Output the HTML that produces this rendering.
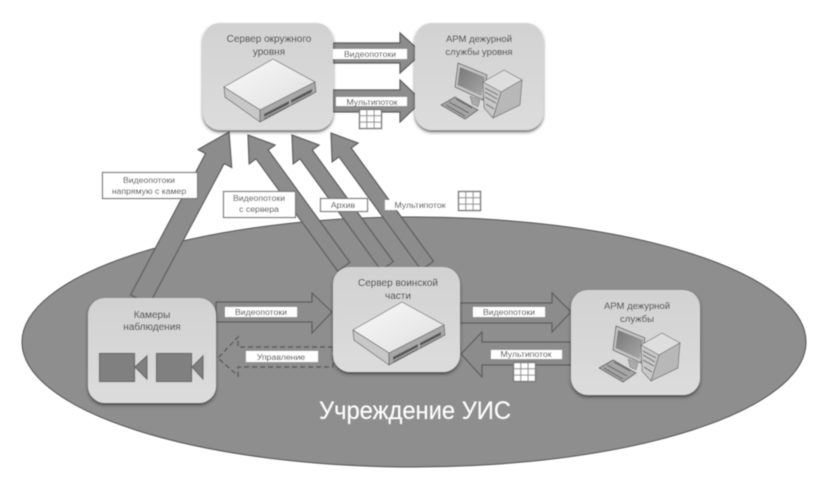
<!DOCTYPE html>
<html><head><meta charset="utf-8"><style>
html,body{margin:0;padding:0;background:#fff}
svg{display:block}
text{font-family:"Liberation Sans",sans-serif;font-size:8.7px;fill:#333;text-anchor:middle}
text.n{font-size:10px}
</style></head><body>
<svg width="821" height="477" viewBox="0 0 821 477" xmlns="http://www.w3.org/2000/svg">
<defs>
<filter id="b" x="-5%" y="-5%" width="110%" height="110%"><feGaussianBlur stdDeviation="0.5"/></filter>
<filter id="s" x="-10%" y="-10%" width="120%" height="120%"><feDropShadow dx="0" dy="2" stdDeviation="1.5" flood-color="#333" flood-opacity="0.8"/></filter>
<linearGradient id="g" x1="0" y1="0" x2="0" y2="1"><stop offset="0" stop-color="#d2d2d2"/><stop offset="1" stop-color="#dcdcdc"/></linearGradient>
<linearGradient id="t" x1="0" y1="0" x2="1" y2="1"><stop offset="0" stop-color="#fafafa"/><stop offset="1" stop-color="#dedede"/></linearGradient>
<linearGradient id="m" x1="0" y1="0" x2="1" y2="1"><stop offset="0" stop-color="#777"/><stop offset="1" stop-color="#a8a8a8"/></linearGradient>
<g id="srv">
<polygon points="224,87 273,59 315,82 260,110" fill="url(#t)" stroke="#555" stroke-width="0.7"/>
<polygon points="224,87 260,110 260,122 225,97" fill="#c8c8c8" stroke="#555" stroke-width="0.7"/>
<polygon points="260,110 315,82 316,92 260,122" fill="#a8a8a8" stroke="#555" stroke-width="0.7"/>
<path d="M264,114 L289,101 L289,104 L264,117 Z M291,100 L312,89 L312,92 L291,103 Z" fill="#555"/>
<path d="M264,119 L289,106 M291,105 L312,94" stroke="#666" stroke-width="1" fill="none"/>
</g>
<g id="pc">
<polygon points="441,105 455,97 478,110 465,119" fill="#a6a6a6" stroke="#555" stroke-width="0.8"/>
<path d="M456,99 L472,108 M446,105 L465,116 M449,102 L469,113" stroke="#555" stroke-width="0.9" fill="none"/>
<polygon points="470,96 480,100 478,107 472,104" fill="#aaa" stroke="#666" stroke-width="0.5"/>
<polygon points="458,63 487,75 483,100 455,87" fill="#c4c4c4" stroke="#555" stroke-width="0.8"/>
<polygon points="460,67 485,77 481.500,96 457.500,85" fill="url(#m)"/>
<polygon points="483,82 504,70 522,80 501,92" fill="#dedede" stroke="#666" stroke-width="0.7"/>
<polygon points="501,92 522,80 520,105 493,118" fill="#b8b8b8" stroke="#666" stroke-width="0.7"/>
<polygon points="483,82 501,92 493,118 484,108" fill="#c8c8c8" stroke="#666" stroke-width="0.7"/>
<path d="M485,88 L498,95 M485,92 L497,99 M485,97 L496,103 M486,104 L494,109" stroke="#555" stroke-width="0.8"/>
</g>
<g id="grid">
<rect x="0" y="0" width="22" height="19" fill="#fff" stroke="#777" stroke-width="1.4"/>
<path d="M7.300,0V19M14.600,0V19M0,6.300H22M0,12.600H22" stroke="#888" stroke-width="1" fill="none"/>
</g>
</defs>
<rect width="821" height="477" fill="#fff"/>
<g filter="url(#b)">
<ellipse cx="414" cy="342" rx="392" ry="125" fill="#8e8e8e" stroke="#4a4a4a" stroke-width="1"/>

<g fill="#8c8c8c" stroke="#5a5a5a" stroke-width="1.2">
<polygon transform="translate(229,132) rotate(-62)" points="0,0 -30,-19 -30,-10.500 -190,-10.500 -190,10.500 -30,10.500 -30,19"/>
<polygon transform="translate(248,135) rotate(-126)" points="0,0 -24,-16 -24,-7.500 -163,-7.500 -163,7.500 -24,7.500 -24,16"/>
<polygon transform="translate(292,135) rotate(-126)" points="0,0 -24,-16 -24,-7.500 -162,-7.500 -162,7.500 -24,7.500 -24,16"/>
<polygon transform="translate(331,133) rotate(-126)" points="0,0 -24,-16 -24,-7.500 -164,-7.500 -164,7.500 -24,7.500 -24,16"/>
<polygon points="333,43 400,43 400,33 422,53 400,73 400,63 333,63"/>
<polygon points="333,90 400,90 400,80 422,101 400,122 400,112 333,112"/>
<polygon points="216,302 312,302 312,293 332,312 312,333 312,322 216,322"/>
<polygon points="460,303 552,303 552,293 571,312 552,332 552,323 460,323"/>
<polygon points="571,342 482,342 482,332 461,354 482,377 482,365 571,365"/>
</g>
<polygon points="333,347 238,347 238,337 218,358 238,376 238,367 333,367" fill="#8e8e8e" stroke="#5a5a5a" stroke-width="1.4" stroke-dasharray="5 3"/>

<g fill="url(#g)" filter="url(#s)">
<rect x="203" y="23" width="130" height="107" rx="17"/>
<rect x="415" y="23" width="128" height="107" rx="17"/>
<rect x="88" y="298" width="128" height="105" rx="17"/>
<rect x="333" y="267" width="127" height="105" rx="17"/>
<rect x="571" y="290" width="129" height="105" rx="17"/>
</g>

<use href="#srv"/>
<use href="#srv" transform="translate(129,243)"/>
<use href="#pc"/>
<use href="#pc" transform="translate(158,263)"/>

<g fill="#808080" stroke="#666" stroke-width="1.2">
<rect x="99.500" y="353.500" width="35" height="28"/>
<polygon points="135,367 147,356 147,379"/>
<rect x="156.500" y="353.500" width="35" height="28"/>
<polygon points="192,367 203,356 203,379"/>
</g>

<g fill="#fff" stroke="none">
<rect x="333" y="49" width="74" height="10"/>
<rect x="336" y="97" width="71" height="9"/>
<rect x="385" y="200" width="73" height="10"/>
<rect x="225" y="307" width="72" height="10"/>
<rect x="246" y="351" width="72" height="11"/>
<rect x="473" y="307" width="72" height="10"/>
<rect x="491" y="350" width="71" height="9"/>
</g>
<g fill="#fff" stroke="#777" stroke-width="1.2">
<rect x="102.500" y="172.500" width="95" height="26"/>
<rect x="223.500" y="191.500" width="72" height="26"/>
<rect x="320.500" y="198.500" width="47" height="13"/>
</g>
<use href="#grid" transform="translate(359.500,109.500)"/>
<use href="#grid" transform="translate(458.500,191.500)"/>
<use href="#grid" transform="translate(513.500,362.500)"/>

<text class="n" x="269" y="42">Сервер окружного</text>
<text class="n" x="269" y="55">уровня</text>
<text class="n" x="479" y="42" style="font-size:9.500px">АРМ дежурной</text>
<text class="n" x="479" y="55" style="font-size:9.500px">службы уровня</text>
<text x="370" y="57">Видеопотоки</text>
<text x="372" y="105">Мультипоток</text>
<text x="149" y="183">Видеопотоки</text>
<text x="149" y="194">напрямую с камер</text>
<text x="259" y="201">Видеопотоки</text>
<text x="259" y="212">с сервера</text>
<text x="343" y="208">Архив</text>
<text x="420" y="208">Мультипоток</text>
<text class="n" x="152" y="318">Камеры</text>
<text class="n" x="152" y="330">наблюдения</text>
<text x="261" y="315">Видеопотоки</text>
<text x="281" y="360">Управление</text>
<text class="n" x="398" y="286">Сервер воинской</text>
<text class="n" x="398" y="299">части</text>
<text x="509" y="315">Видеопотоки</text>
<text x="526" y="357">Мультипоток</text>
<text class="n" x="637" y="309" style="font-size:9.500px">АРМ дежурной</text>
<text class="n" x="637" y="322" style="font-size:9.500px">службы</text>
<text x="415" y="419" style="font-size:25px;fill:#fff" textLength="192" lengthAdjust="spacingAndGlyphs">Учреждение УИС</text>
</g>
</svg>
</body></html>
